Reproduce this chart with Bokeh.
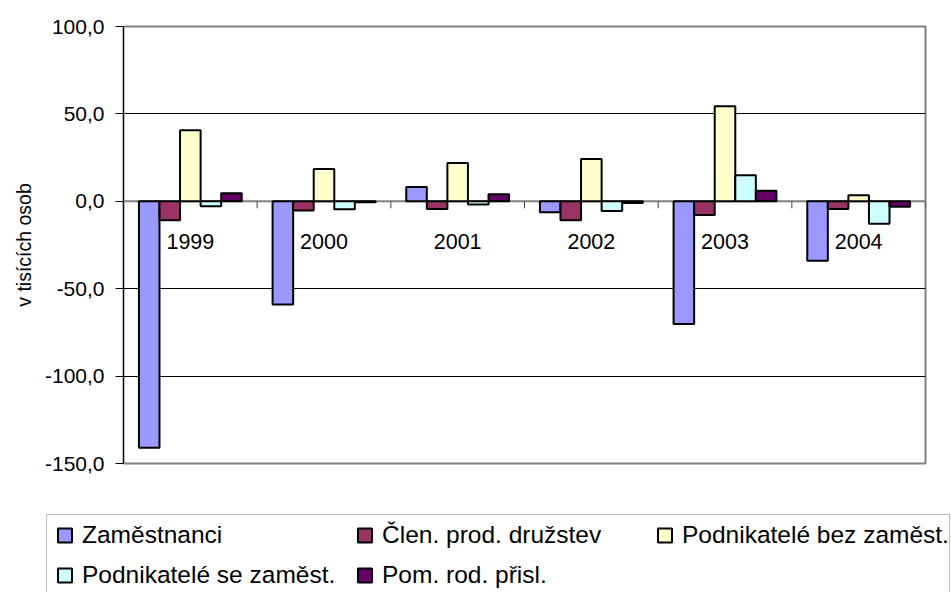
from bokeh.plotting import figure
from bokeh.layouts import column
from bokeh.models import (ColumnDataSource, FactorRange, Range1d, FixedTicker,
                          CustomJSTickFormatter, Legend, LegendItem, Span)
from bokeh.transform import dodge
from bokeh.core.properties import value
from bokeh.embed import file_html
from bokeh.resources import INLINE

# ---- data ----
years = ["1999", "2000", "2001", "2002", "2003", "2004"]
zamestnanci = [-141.0, -59.0, 8.2, -6.3, -70.2, -34.0]
clen_druzstev = [-10.9, -5.2, -4.4, -10.9, -7.8, -4.4]
podnikatele_bez = [40.6, 18.5, 21.9, 24.2, 54.4, 3.4]
podnikatele_se = [-2.9, -4.6, -1.9, -5.5, 14.9, -12.8]
pom_rod = [4.6, -0.5, 4.0, -1.0, 6.1, -3.1]
series_names = ["Zaměstnanci", "Člen. prod. družstev", "Podnikatelé bez zaměst.",
                "Podnikatelé se zaměst.", "Pom. rod. přisl."]
series_keys = ["zam", "clen", "bez", "se", "pom"]
colors = ["#9999FF", "#993366", "#FFFFCC", "#CCFFFF", "#660066"]
y_ticks = [-150, -100, -50, 0, 50, 100]
grid_ticks = [-100, -50, 50]
y_title = "v tisících osob"

FONT = "Liberation Sans"

src = ColumnDataSource(dict(
    year=years, zam=zamestnanci, clen=clen_druzstev, bez=podnikatele_bez,
    se=podnikatele_se, pom=pom_rod, base=[0] * len(years),
))

n = len(series_keys)
w = 1.0 / (n + 1.5)
offsets = [(i - (n - 1) / 2) * w for i in range(n)]

# ---- main chart ----
p = figure(width=951, height=508,
           x_range=FactorRange(factors=years, range_padding=0),
           y_range=Range1d(-150, 100),
           output_backend="svg", toolbar_location=None, x_axis_location=None,
           min_border_left=123, min_border_right=26, min_border_top=26,
           min_border_bottom=45)
p.frame_align = False
p.background_fill_color = "white"
p.border_fill_color = "white"
p.outline_line_color = "#808080"
p.outline_line_width = 2

p.xgrid.visible = False
p.ygrid.ticker = FixedTicker(ticks=grid_ticks)
p.ygrid.grid_line_color = "black"
p.ygrid.grid_line_width = 1

ax = p.yaxis[0]
ax.ticker = FixedTicker(ticks=y_ticks)
ax.formatter = CustomJSTickFormatter(code="return tick.toFixed(1).replace('.', ',');")
ax.minor_tick_line_color = None
ax.major_tick_out = 8
ax.major_tick_in = 0
ax.axis_line_color = "black"
ax.axis_line_width = 1
ax.major_tick_line_color = "black"
ax.major_label_standoff = 11
ax.major_label_text_font = FONT
ax.major_label_text_font_size = "21px"
ax.major_label_text_color = "black"
ax.axis_label = y_title
ax.axis_label_text_font = FONT
ax.axis_label_text_font_size = "19.5px"
ax.axis_label_text_font_style = "normal"
ax.axis_label_text_color = "black"
ax.axis_label_standoff = 7

zero = Span(location=0, dimension="width", line_color="#808080", line_width=2,
            level="underlay")
p.add_layout(zero)

for key, col, off in zip(series_keys, colors, offsets):
    p.vbar(x=dodge("year", off, range=p.x_range), top=key, width=w,
           source=src, fill_color=col, line_color="black", line_width=2)

# category tick marks at group boundaries
p.ray(x=dodge("year", 0.5, range=p.x_range), y="base", length=7,
      length_units="screen", angle=-90, angle_units="deg",
      line_color="#404040", line_width=1, source=src)

# category labels along the zero line
p.text(x="year", y="base", text="year", source=src, text_align="center",
       text_baseline="alphabetic", y_offset=40, text_font=value(FONT),
       text_font_size="21.5px", text_color="black")

# ---- legend strip (same series as square markers, lying outside this strip's view) ----
lg = figure(width=951, height=84,
            x_range=FactorRange(factors=years, range_padding=0),
            y_range=Range1d(1000, 1001),
            output_backend="svg", toolbar_location=None,
            x_axis_location=None, y_axis_location=None, min_border=0)
lg.frame_align = False
lg.outline_line_color = None
lg.grid.visible = False
lg.background_fill_color = "white"
lg.border_fill_color = "white"

leg_renderers = []
for key, col in zip(series_keys, colors):
    leg_renderers.append(lg.scatter(x="year", y=key, source=src, marker="square",
                                    size=14, fill_color=col, line_color="black",
                                    line_width=2))

legend = Legend(
    items=[LegendItem(label=nm, renderers=[r]) for nm, r in zip(series_names, leg_renderers)],
    location=(46, -4), orientation="horizontal", ncols=3,
    glyph_width=35, glyph_height=40, label_standoff=0, label_width=265,
    label_height=40, spacing=0, padding=0, margin=0,
    border_line_color="#808080", border_line_width=1.5,
    background_fill_color="white", background_fill_alpha=1,
    label_text_font=FONT, label_text_font_size="24.5px", label_text_color="black",
)
lg.add_layout(legend, "center")

layout = column(p, lg, spacing=0)
open("out.html", "w").write(file_html(layout, INLINE))
